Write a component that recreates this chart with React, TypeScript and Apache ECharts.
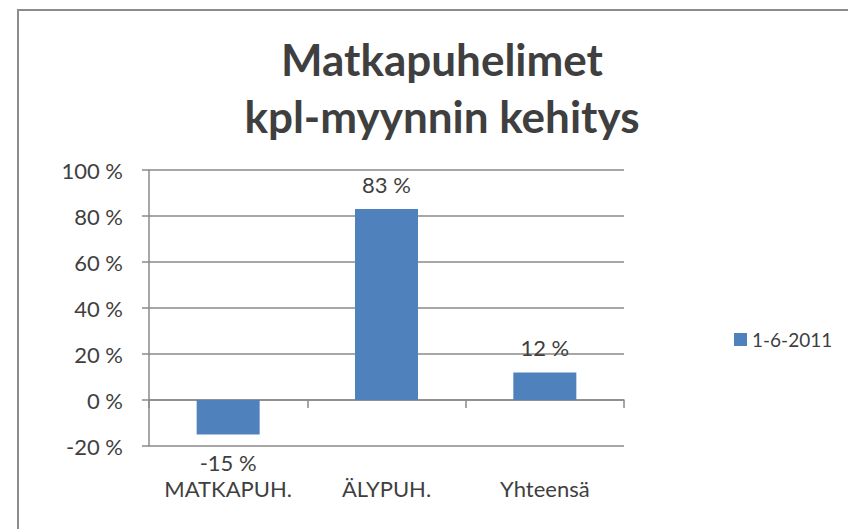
import React, { useEffect, useRef } from "react";
import * as echarts from "echarts";

const categories: string[] = ["MATKAPUH.", "ÄLYPUH.", "Yhteensä"];
const growthPct: number[] = [-15, 83, 12];
const seriesName = "1-6-2011";
const titleLines: string[] = ["Matkapuhelimet", "kpl-myynnin kehitys"];

const FONT = "Lato, 'Open Sans', sans-serif";
const TEXT = "#3f3f3f";
const LINE = "#8a8a8a";
const BAR = "#4f81bd";

export default function App() {
  const ref = useRef<HTMLDivElement>(null);

  useEffect(() => {
    if (!ref.current) return;
    const chart = echarts.init(ref.current, undefined, { renderer: "svg" });

    const barData = growthPct.map((v) => ({
      value: v,
      label: {
        position: v < 0 ? "bottom" : "top",
        distance: v < 0 ? 18 : 15,
      },
    }));

    chart.setOption({
      animation: false,
      title: {
        text: titleLines.join("\n"),
        left: 437,
        top: 25,
        textAlign: "center",
        textStyle: {
          fontFamily: FONT,
          fontWeight: "bold",
          fontSize: 44,
          lineHeight: 57,
          color: TEXT,
        },
      },
      legend: {
        left: 734,
        top: 330,
        padding: 0,
        itemWidth: 13,
        itemHeight: 13,
        icon: "rect",
        data: [seriesName],
        textStyle: { fontFamily: FONT, fontSize: 19, color: TEXT },
      },
      graphic: [
        {
          type: "line",
          shape: { x1: 18, y1: 10, x2: 848, y2: 10 },
          style: { stroke: "#8c8c8c", lineWidth: 2 },
          silent: true,
        },
        {
          type: "line",
          shape: { x1: 18, y1: 9, x2: 18, y2: 529 },
          style: { stroke: "#8c8c8c", lineWidth: 2 },
          silent: true,
        },
      ],
      grid: { left: 149, right: 224, top: 170, bottom: 83 },
      xAxis: [
        {
          type: "category",
          data: categories,
          axisLine: { onZero: true, lineStyle: { color: LINE, width: 1.5 } },
          axisTick: { show: true, length: 8, inside: false, lineStyle: { color: LINE, width: 1.5 } },
          axisLabel: { show: false },
        },
        {
          type: "category",
          data: categories,
          position: "bottom",
          axisLine: { show: false, onZero: false },
          axisTick: { show: false },
          axisLabel: {
            interval: 0,
            margin: 32,
            fontFamily: FONT,
            fontSize: 22,
            lineHeight: 20,
            color: TEXT,
          },
        },
      ],
      yAxis: {
        type: "value",
        min: -20,
        max: 100,
        interval: 20,
        axisLine: { show: true, lineStyle: { color: LINE, width: 1.5 } },
        axisTick: { show: true, length: 7, lineStyle: { color: LINE, width: 1.5 } },
        splitLine: { show: true, lineStyle: { color: LINE, width: 1.5 } },
        axisLabel: {
          margin: 26,
          fontFamily: FONT,
          fontSize: 22,
          color: TEXT,
          formatter: (v: number) => `${v} %`,
        },
      },
      series: [
        {
          name: seriesName,
          type: "bar",
          xAxisIndex: 0,
          data: barData,
          barWidth: 63,
          itemStyle: { color: BAR },
          label: {
            show: true,
            fontFamily: FONT,
            fontSize: 22,
            lineHeight: 20,
            color: TEXT,
            formatter: (p: any) => `${p.value} %`,
          },
        },
      ],
    });

    return () => chart.dispose();
  }, []);

  return (
    <div
      ref={ref}
      style={{ position: "fixed", left: 0, top: 0, width: 848, height: 529, background: "#ffffff" }}
    />
  );
}
